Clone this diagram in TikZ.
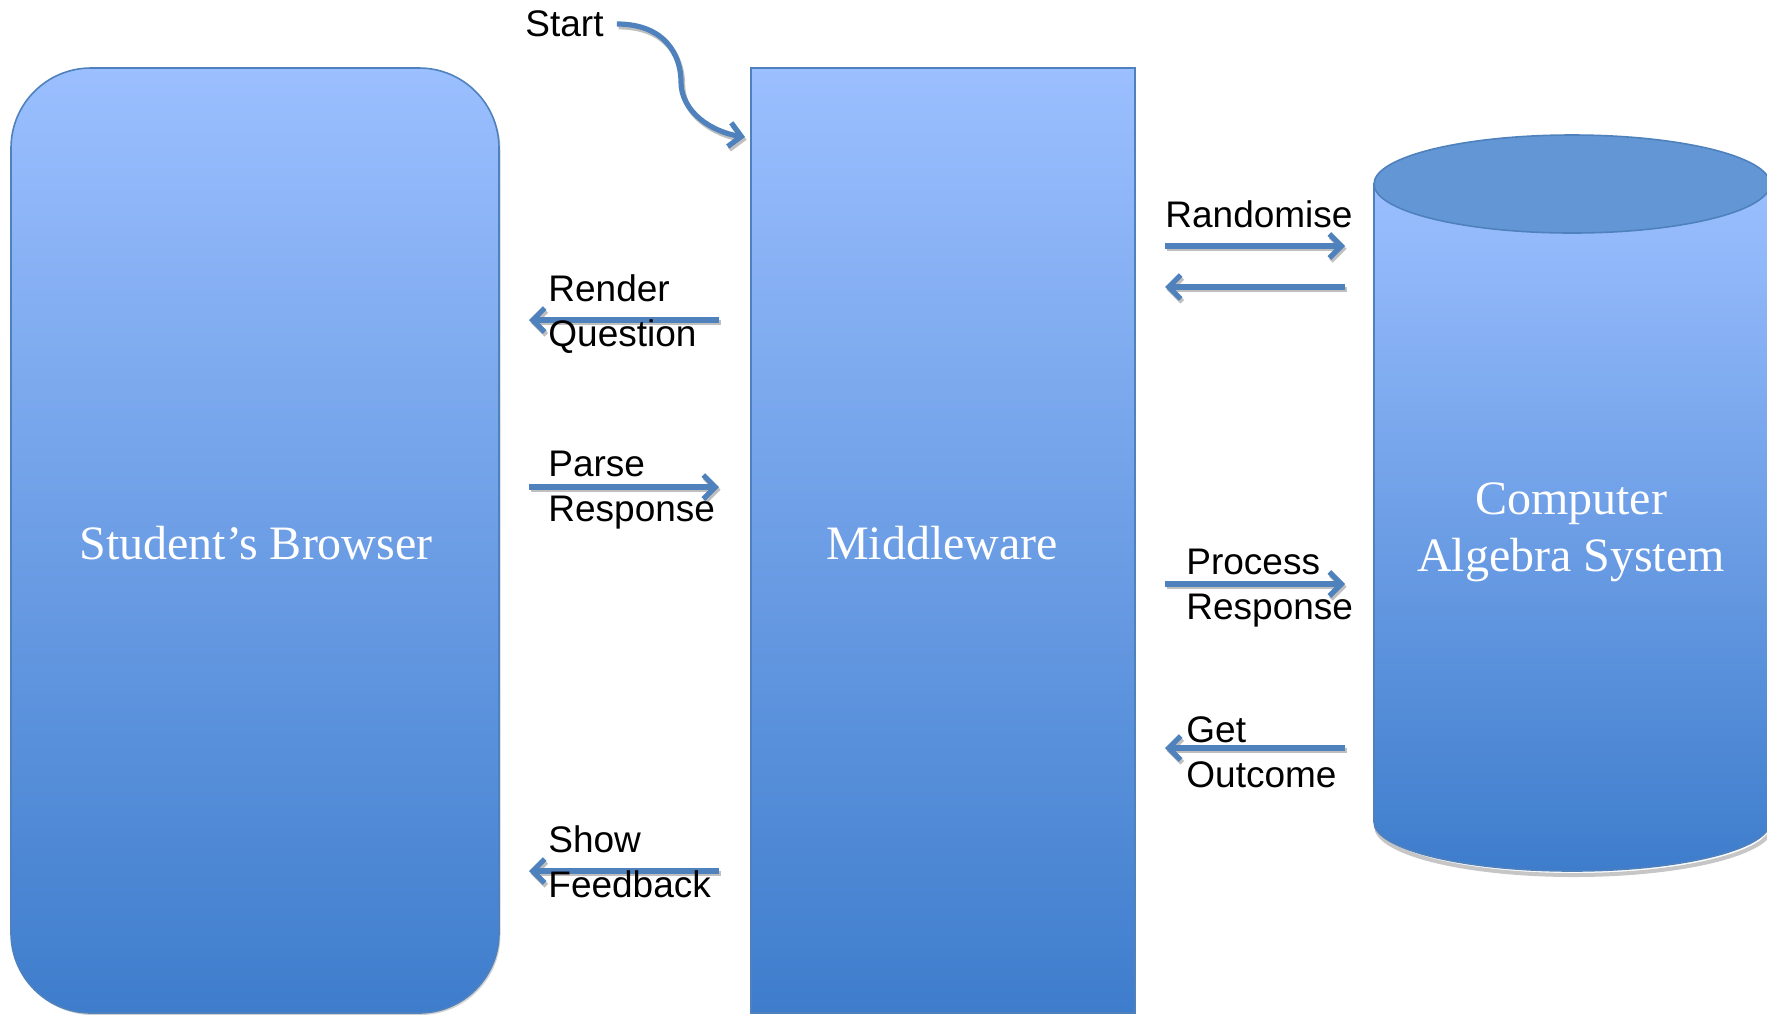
\documentclass[tikz,border=0pt]{standalone}
\usepackage{fontspec}
\setmainfont{Liberation Serif}
\newfontfamily\arial{Liberation Sans}
\usetikzlibrary{arrows.meta}
\definecolor{lite}{RGB}{155,191,255}
\definecolor{dark}{RGB}{62,125,204}
\definecolor{edge}{RGB}{79,129,189}
\definecolor{captop}{RGB}{99,150,212}
\begin{document}
\begin{tikzpicture}[x=0.5pt,y=-0.5pt,
  blk/.style={draw=edge, line width=0.8pt, top color=lite, bottom color=dark, inner sep=0},
  big/.style={text=white, font=\fontsize{24}{28.5}\selectfont, align=center},
  lbl/.style={font=\arial\fontsize{18.5}{22.5}\selectfont, align=left, inner sep=0, anchor=west},
  flow/.style={draw=edge, line width=2.6pt, -{Straight Barb[length=6pt,width=12pt]},
    preaction={draw=gray!50, line width=2.6pt, transform canvas={shift={(0.8pt,-1.4pt)}}}}
]
\useasboundingbox (0,0) rectangle (1767,1014);
% shadows
\node[fill=gray!35, rounded corners=40pt, minimum width=244pt, minimum height=472.5pt, inner sep=0] (browsershadow) at (256.5,542.5) {};
\draw[gray!45, line width=2pt] (1376,826) arc[start angle=180, end angle=0, x radius=198, y radius=49];
% boxes
\node[blk, rounded corners=40pt, minimum width=244pt, minimum height=472.5pt] (browser) at (255,540.5) {};
\node[big] (browsertxt) at (256,543) {Student’s Browser};
\node[blk, minimum width=192pt, minimum height=472.5pt] (mw) at (943,540.5) {};
\node[big] (mwtxt) at (942,543) {Middleware};
% cylinder
\path[draw=edge, line width=0.8pt, top color=lite, bottom color=dark] (1374,184) -- (1374,822) arc[start angle=180, end angle=0, x radius=198, y radius=49] -- (1770,184) -- cycle;
\draw[draw=edge, fill=captop, line width=0.8pt] (1572,184) ellipse [x radius=198, y radius=49];
\node[big] (cas) at (1571,532.5) {Computer\\Algebra System};
% start
\node[lbl] (start) at (525,24) {Start};
\coordinate (sEnd) at (745,137);
\draw[flow] ([xshift=6.5pt]start.east) .. controls (665,24) and (681,55) .. (681,82) .. controls (681,112) and (712,132) .. (sEnd);
% arrow end coordinates
\coordinate (rqA) at (719,320); \coordinate (rqB) at (529,320);
\coordinate (prA) at (529,487); \coordinate (prB) at (719,487);
\coordinate (sfA) at (719,871); \coordinate (sfB) at (529,871);
\coordinate (raA) at (1165,246); \coordinate (raB) at (1345,246);
\coordinate (rbA) at (1345,287); \coordinate (rbB) at (1165,287);
\coordinate (pcA) at (1165,584); \coordinate (pcB) at (1345,584);
\coordinate (goA) at (1345,748); \coordinate (goB) at (1165,748);
\draw[flow] (rqA) -- (rqB);
\draw[flow] (prA) -- (prB);
\draw[flow] (sfA) -- (sfB);
\draw[flow] (raA) -- (raB);
\draw[flow] (rbA) -- (rbB);
\draw[flow] (pcA) -- (pcB);
\draw[flow] (goA) -- (goB);
% labels
\node[lbl] (render) at (548,314.5) {Render\\Question};
\node[lbl] (parse) at (548,490) {Parse\\Response};
\node[lbl] (show) at (548,862) {Show\\Feedback};
\node[lbl] (rand) at (1165,214) {Randomise};
\node[lbl] (proc) at (1186,588.5) {Process\\Response};
\node[lbl] (getout) at (1186,752) {Get\\Outcome};
\end{tikzpicture}
\end{document}
